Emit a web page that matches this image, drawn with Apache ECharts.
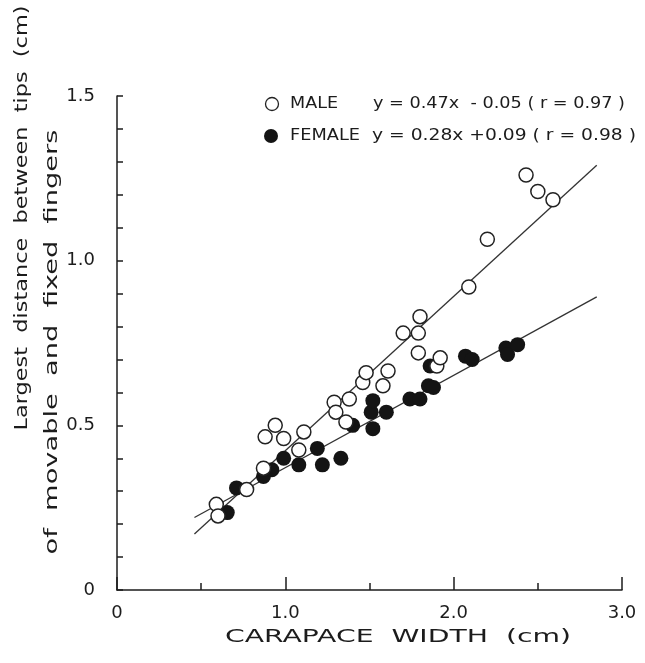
<!DOCTYPE html>
<html>
<head>
<meta charset="utf-8">
<script src="https://cdn.jsdelivr.net/npm/echarts@6/dist/echarts.min.js"></script>
<style>
  html, body { margin: 0; padding: 0; background: #fff; }
  #chart { width: 645px; height: 663px; }
</style>
</head>
<body>
<div id="chart"></div>
<script>
// open circles
var maleX = [0.59, 0.60, 0.77, 0.87, 0.88, 0.94, 0.99, 1.08, 1.11, 1.29, 1.30, 1.36, 1.38, 1.46, 1.48, 1.58, 1.61, 1.70, 1.79, 1.80, 1.79, 1.90, 1.92, 2.09, 2.20, 2.43, 2.50, 2.59];
var maleY = [0.26, 0.225, 0.305, 0.37, 0.465, 0.50, 0.46, 0.425, 0.48, 0.57, 0.54, 0.51, 0.58, 0.63, 0.66, 0.62, 0.665, 0.78, 0.78, 0.83, 0.72, 0.68, 0.705, 0.92, 1.065, 1.26, 1.21, 1.185];
// filled circles
var femaleX = [0.655, 0.71, 0.87, 0.92, 0.99, 1.08, 1.19, 1.22, 1.33, 1.40, 1.51, 1.52, 1.52, 1.60, 1.74, 1.80, 1.85, 1.88, 1.86, 2.07, 2.11, 2.31, 2.32, 2.38];
var femaleY = [0.235, 0.31, 0.345, 0.365, 0.40, 0.38, 0.43, 0.38, 0.40, 0.50, 0.54, 0.575, 0.49, 0.54, 0.58, 0.58, 0.62, 0.615, 0.68, 0.71, 0.70, 0.735, 0.715, 0.745];
// fitted lines, end points
var maleLine = [[0.46, 0.17], [2.85, 1.29]];
var femaleLine = [[0.46, 0.22], [2.85, 0.89]];

var xTickLabels = ['0', '1.0', '2.0', '3.0'];
var yTickLabels = ['0', '0.5', '1.0', '1.5'];

var maleLabel = 'MALE';
var femaleLabel = 'FEMALE';
var maleEq = 'y = 0.47x  - 0.05 ( r = 0.97 )';
var femaleEq = 'y = 0.28x +0.09 ( r = 0.98 )';
var xTitle = 'CARAPACE  WIDTH  (cm)';
var yTitle1 = 'Largest  distance  between  tips  (cm)';
var yTitle2 = 'of  movable  and  fixed  fingers';

var ink = '#1c1c1c';
var fontName = 'DejaVu Sans';

function pairs(xs, ys) {
  return xs.map(function (x, i) { return [x, ys[i]]; });
}

// stretch text to the wide lettering of the original
var measureCtx = document.createElement('canvas').getContext('2d');
function fit(text, size, target) {
  measureCtx.font = size + 'px "' + fontName + '"';
  return target / measureCtx.measureText(text).width;
}

function tickText(list, decimals) {
  return function (val) {
    var s = val === 0 ? '0' : val.toFixed(decimals);
    return list.indexOf(s) >= 0 ? s : '';
  };
}

function textEl(text, size, x, y, target, rotation, align) {
  return {
    type: 'text',
    x: x,
    y: y,
    rotation: rotation || 0,
    scaleX: fit(text, size, target),
    style: {
      text: text,
      font: size + 'px "' + fontName + '"',
      fill: ink,
      align: align || 'center',
      verticalAlign: 'middle'
    }
  };
}

let myChart = echarts.init(document.getElementById('chart'));
let option = {
  backgroundColor: '#fff',
  animation: false,
  grid: { left: 117, right: 23, top: 96, bottom: 73 },
  xAxis: [
    {
      type: 'value',
      min: 0,
      max: 3,
      interval: 0.5,
      axisLine: { lineStyle: { color: ink, width: 1.5 } },
      axisTick: { inside: true, length: 7, lineStyle: { color: ink, width: 1.5 } },
      splitLine: { show: false },
      axisLabel: {
        margin: 14,
        color: ink,
        fontFamily: fontName,
        fontSize: 18,
        formatter: tickText(xTickLabels, 1)
      }
    },
    {
      type: 'value',
      min: 0,
      max: 3,
      interval: 1,
      position: 'bottom',
      axisLine: { show: false },
      axisTick: { inside: true, length: 13, lineStyle: { color: ink, width: 1.5 } },
      splitLine: { show: false },
      axisLabel: { show: false }
    }
  ],
  yAxis: {
    type: 'value',
    min: 0,
    max: 1.5,
    interval: 0.1,
    axisLine: { show: true, lineStyle: { color: ink, width: 1.5 } },
    axisTick: { show: true, inside: true, length: 6, lineStyle: { color: ink, width: 1.5 } },
    splitLine: { show: false },
    axisLabel: {
      margin: 22,
      color: ink,
      fontFamily: fontName,
      fontSize: 18,
      formatter: tickText(yTickLabels, 1)
    }
  },
  series: [
    {
      type: 'line',
      data: maleLine,
      symbol: 'none',
      z: 1,
      lineStyle: { color: '#333', width: 1.3 }
    },
    {
      type: 'line',
      data: femaleLine,
      symbol: 'none',
      z: 1,
      lineStyle: { color: '#333', width: 1.3 }
    },
    {
      name: femaleLabel,
      type: 'scatter',
      data: pairs(femaleX, femaleY),
      symbol: 'circle',
      symbolSize: 15,
      z: 2,
      itemStyle: { color: '#141414', opacity: 1 }
    },
    {
      name: maleLabel,
      type: 'scatter',
      data: pairs(maleX, maleY),
      symbol: 'circle',
      symbolSize: 14,
      z: 3,
      itemStyle: { color: '#fff', borderColor: '#222', borderWidth: 1.5, opacity: 1 }
    }
  ],
  graphic: [
    { type: 'circle', shape: { cx: 272, cy: 104, r: 6.5 }, style: { fill: '#fff', stroke: '#222', lineWidth: 1.3 } },
    { type: 'circle', shape: { cx: 271, cy: 136, r: 7 }, style: { fill: '#141414' } },
    textEl(maleLabel, 15, 290, 104, 48, 0, 'left'),
    textEl(maleEq, 15, 373, 104, 252, 0, 'left'),
    textEl(femaleLabel, 15, 290, 136, 70, 0, 'left'),
    textEl(femaleEq, 15, 372, 136, 264, 0, 'left'),
    textEl(xTitle, 18, 398, 637, 346),
    textEl(yTitle1, 18, 22, 218, 425, Math.PI / 2),
    textEl(yTitle2, 18, 52, 342, 425, Math.PI / 2)
  ]
};
myChart.setOption(option);
</script>
</body>
</html>
